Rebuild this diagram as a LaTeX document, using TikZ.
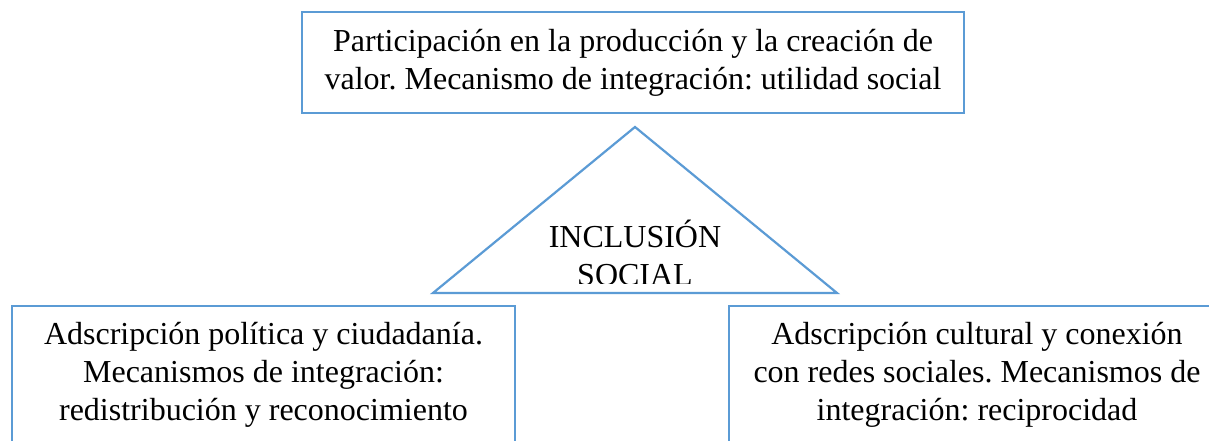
\documentclass[tikz,border=0pt]{standalone}
\usepackage{fontspec}
\setmainfont{Liberation Serif}
\frenchspacing
\definecolor{officeblue}{HTML}{5B9BD5}
\tikzset{
  frame/.style={draw=officeblue, line width=2.2bp},
  boxtext/.style={align=center, inner sep=0pt, font=\frenchspacing\fontsize{32bp}{38bp}\selectfont, text=black},
}
\begin{document}
\begin{tikzpicture}[x=1bp,y=-1bp]
\useasboundingbox[fill=white] (0,0) rectangle (1209,441);
% top box
\draw[frame] (302,12) rectangle (964,113);
\node[boxtext, anchor=base] (top) at (633,90) {Participación en la producción y la creación de\\valor. Mecanismo de integración: utilidad social};
% triangle
\coordinate (apex) at (635,127);
\coordinate (bl) at (433,293);
\coordinate (br) at (837,293);
\draw[frame, line join=miter] (apex) -- (br) -- (bl) -- cycle;
\begin{scope}
\clip (433,127) rectangle (837,283.5);
\node[boxtext, anchor=base] (incl) at (635,286) {INCLUSIÓN\\SOCIAL};
\end{scope}
% bottom left box (open at bottom)
\draw[frame] (12,450) -- (12,306) -- (515,306) -- (515,450);
\node[boxtext, anchor=base] (left) at (263.5,421) {Adscripción política y ciudadanía.\\Mecanismos de integración:\\redistribución y reconocimiento};
% bottom right box (open at bottom, runs off right edge)
\draw[frame] (729,450) -- (729,306) -- (1225,306) -- (1225,450);
\node[boxtext, anchor=base] (right) at (977,421) {Adscripción cultural y conexión\\con redes sociales. Mecanismos de\\integración: reciprocidad};
\end{tikzpicture}
\end{document}
